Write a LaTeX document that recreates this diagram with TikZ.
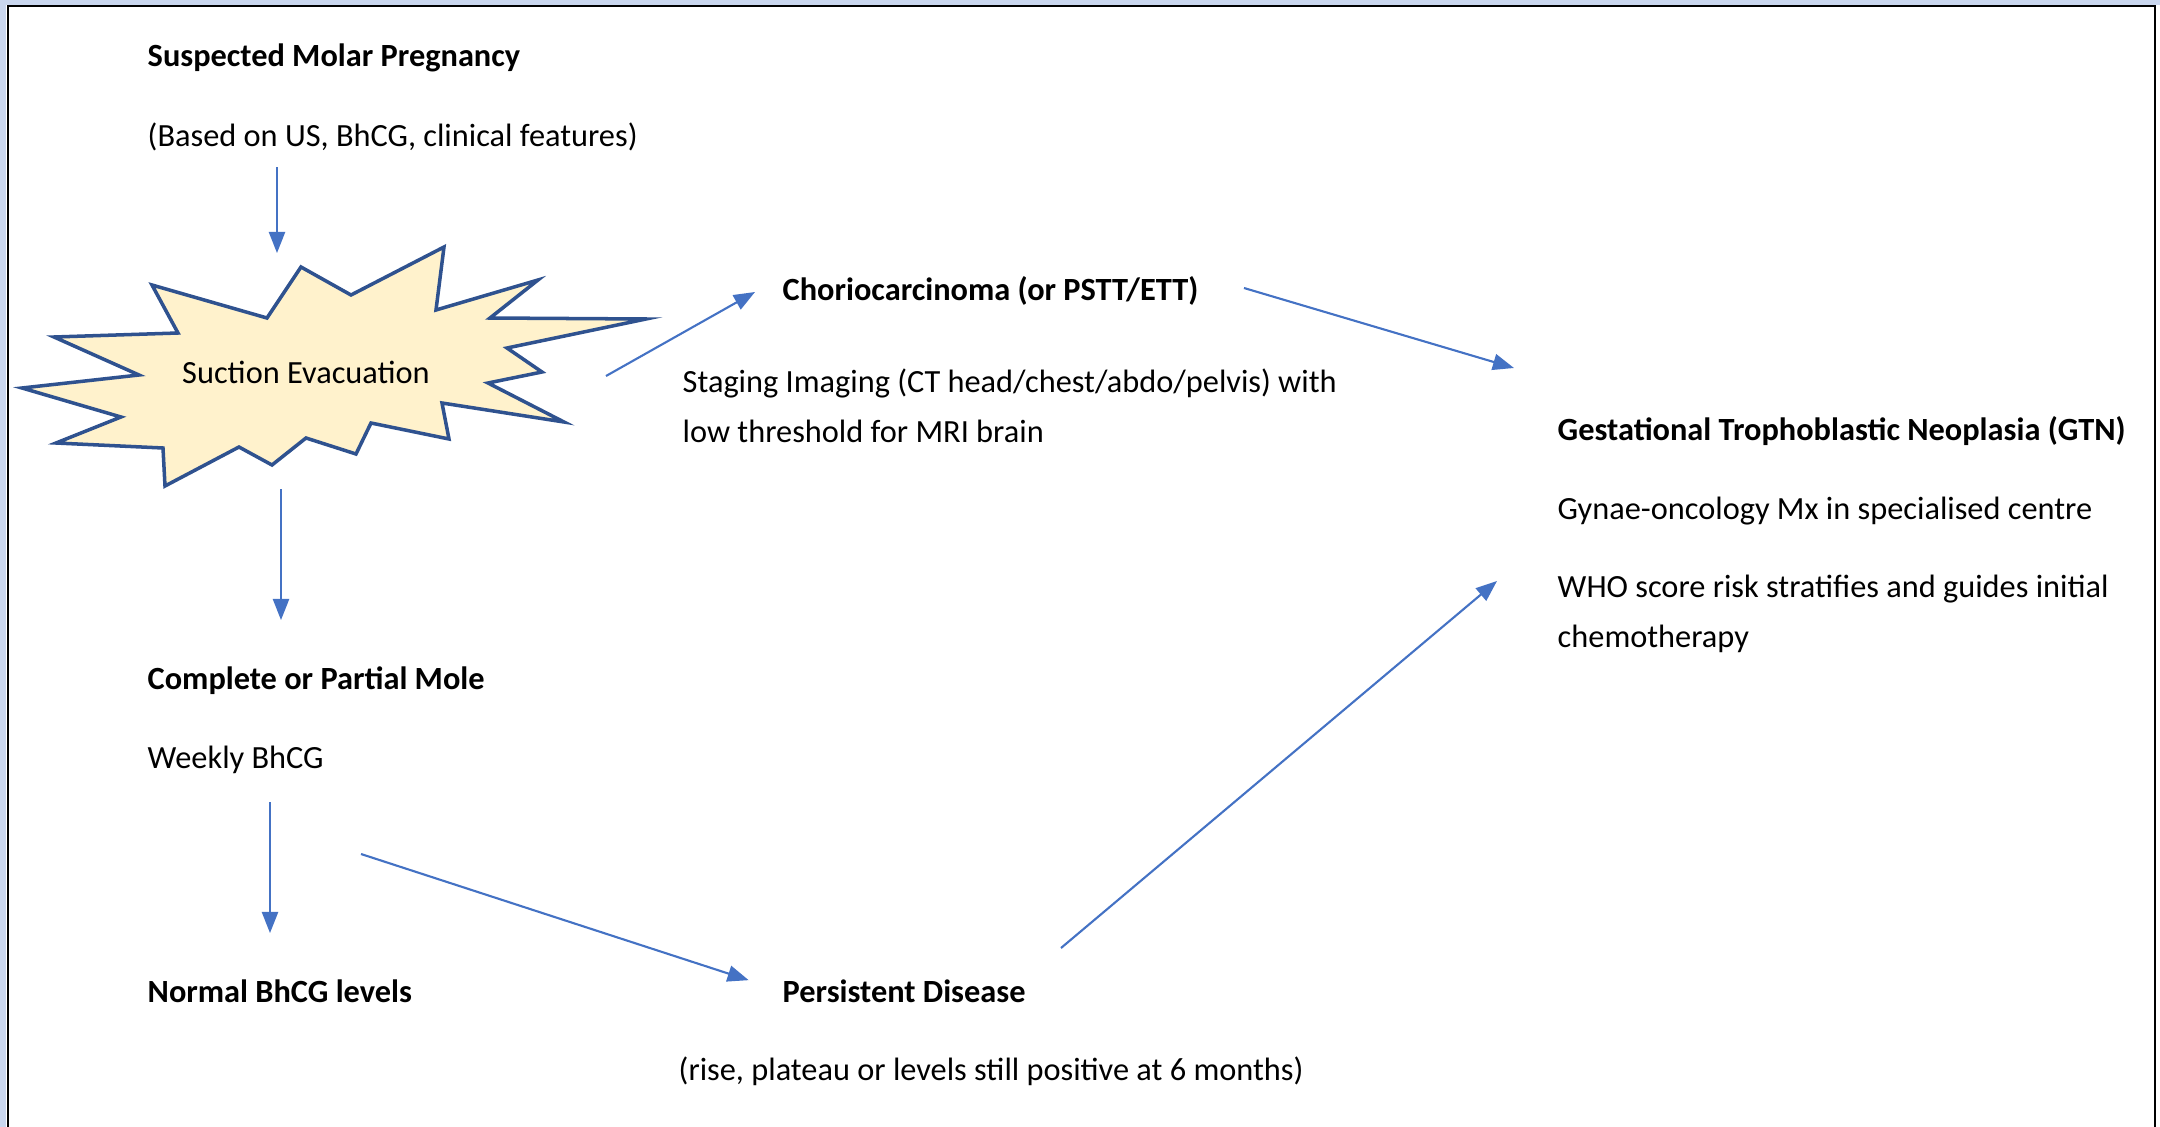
\documentclass[tikz,border=0pt]{standalone}
\usepackage{fontspec}
\setmainfont{Carlito}
\usepackage{xcolor}
\usepackage{tikz}
\usetikzlibrary{positioning, arrows.meta}
\definecolor{flowblue}{HTML}{4472C4}
\definecolor{burstfill}{HTML}{FFF2CC}
\definecolor{burstline}{HTML}{2F528F}
\definecolor{sideblue}{HTML}{C9D6EE}
\tikzstyle{head} = [anchor=west, inner sep=0pt, font=\fontsize{9.2}{14.2}\selectfont\bfseries]
\tikzstyle{note} = [anchor=west, inner sep=0pt, align=left, font=\fontsize{9.2}{14.2}\selectfont]
\tikzstyle{burst} = [draw=burstline, fill=burstfill, line width=1pt, line join=miter]
\tikzstyle{arrow} = [flowblue, line width=0.6pt, -{Triangle[length=6pt,width=4.6pt]}]

\begin{document}
\begin{tikzpicture}[x=0.01cm, y=-0.01cm]
		\useasboundingbox (0,0) rectangle (2160,1127);
		% frame
		\fill[sideblue] (0,0) rectangle (2160,5);
		\fill[sideblue] (0,0) rectangle (6,1127);
		\draw[line width=0.6pt] (8,1127) -- (8,6) -- (2155,6) -- (2155,1127);
		% suction evacuation
		\draw[burst] (444,247) -- (436,310) -- (538,280) -- (490,318) -- (646,319) -- (507,348) -- (542,372) -- (488,383) -- (564,422) -- (442,403) -- (449,439) -- (371,423) -- (356,454) -- (306,438) -- (272,465) -- (239,447) -- (165,486) -- (163,448) -- (56,443) -- (121,417) -- (22,388) -- (139,375) -- (54,337) -- (178,333) -- (152,285) -- (267,318) -- (301,267) -- (351,295) -- cycle;
		\node (evac) [note, anchor=center] at (306,372) {Suction Evacuation};
		% text
		\node (suspect) [head] at (147,58) {Suspected Molar Pregnancy};
		\node (based) [note, below=0.79cm of suspect.west, anchor=west] {(Based on US, BhCG, clinical features)};
		\node (complete) [head] at (147,681) {Complete or Partial Mole};
		\node (weekly) [note, below=0.79cm of complete.west, anchor=west] {Weekly BhCG};
		\node (normal) [head] at (147,991) {Normal BhCG levels};
		\node (persist) [head] at (782,991) {Persistent Disease};
		\node (rise) [note] at (678,1071) {(rise, plateau or levels still positive at 6 months)};
		\node (chorio) [head] at (782,291) {Choriocarcinoma (or PSTT/ETT)};
		\node (staging) [note] at (682,406) {Staging Imaging (CT head/chest/abdo/pelvis) with\\low threshold for MRI brain};
		\node (gtn) [head] at (1557,431) {Gestational Trophoblastic Neoplasia (GTN)};
		\node (gynae) [note, below=0.8cm of gtn.west, anchor=west] {Gynae-oncology Mx in specialised centre};
		\node (who) [note] at (1557,614) {WHO score risk stratifies and guides initial\\chemotherapy};
		% arrow ends
		\coordinate (evac-n) at (277,253);
		\coordinate (evac-s) at (281,489);
		\coordinate (evac-e) at (606,376);
		\coordinate (based-s) at (277,167);
		\coordinate (complete-n) at (281,620);
		\coordinate (weekly-s) at (270,802);
		\coordinate (weekly-e) at (361,854);
		\coordinate (normal-n) at (270,933);
		\coordinate (persist-ne) at (1061,948);
		\coordinate (chorio-w) at (755,292);
		\coordinate (chorio-e) at (1244,288);
		\coordinate (gtn-nw) at (1514,368);
		\coordinate (gtn-sw) at (1497,581);
		\draw [arrow] (based-s) -- (evac-n);
		\draw [arrow] (evac-s) -- (complete-n);
		\draw [arrow] (weekly-s) -- (normal-n);
		\draw [arrow, shorten >=0.35cm] (weekly-e) -- (persist.west);
		\draw [arrow] (persist-ne) -- (gtn-sw);
		\draw [arrow] (evac-e) -- (chorio-w);
		\draw [arrow] (chorio-e) -- (gtn-nw);
	\end{tikzpicture}
\end{document}
